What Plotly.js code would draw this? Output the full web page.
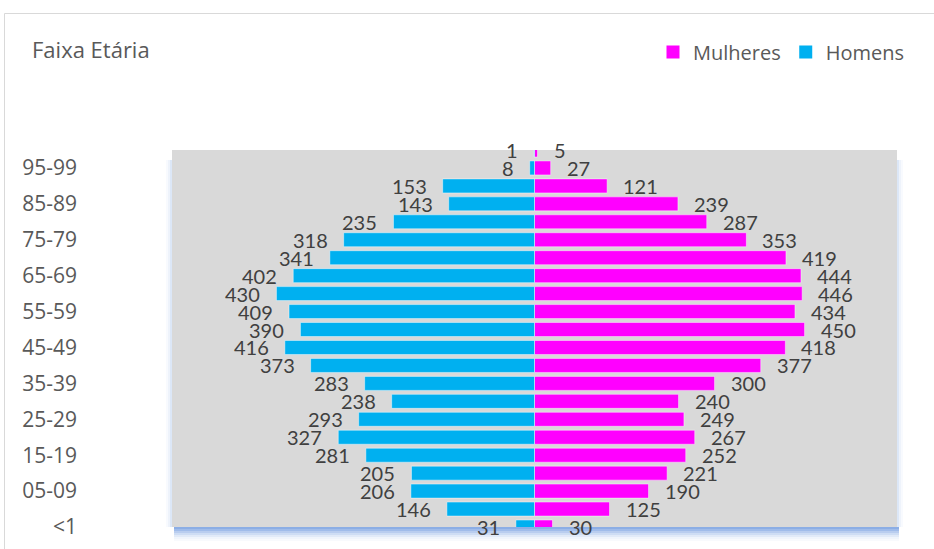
<!DOCTYPE html>
<html>
<head>
<meta charset="utf-8">
<script src="https://cdn.plot.ly/plotly-3.0.1.min.js"></script>
<style>
  html, body { margin: 0; padding: 0; background: #ffffff; }
  #chart { width: 934px; height: 549px; }
</style>
</head>
<body>
<div id="chart"></div>
<script>
// Age groups, bottom to top
const categories = ['<1','01-04','05-09','10-14','15-19','20-24','25-29','30-34','35-39','40-44','45-49',
                    '50-54','55-59','60-64','65-69','70-74','75-79','80-84','85-89','90-94','95-99','100+'];
const homens   = [31,146,206,205,281,327,293,238,283,373,416,390,409,430,402,341,318,235,143,153,8,1];
const mulheres = [30,125,190,221,252,267,249,240,300,377,418,450,434,446,444,419,353,287,239,121,27,5];
const tickLabels = ['<1','05-09','15-19','25-29','35-39','45-49','55-59','65-69','75-79','85-89','95-99'];
const seriesNames = ['Mulheres', 'Homens'];
const seriesColors = ['#FF00FF', '#00B0F0'];

const W = 934, H = 549;
const M = { l: 172, r: 37, t: 150, b: 22 };
const PW = W - M.l - M.r, PH = H - M.t - M.b;
const px = v => (v - M.l) / PW;          // container px -> paper x
const py = v => (H - M.b - v) / PH;      // container px -> paper y

const labelFont = { family: 'Lato, "Liberation Sans", sans-serif', size: 20, color: '#404040' };
const uiFamily = '"Open Sans", sans-serif';

const traces = [
  {
    type: 'bar', orientation: 'h', name: seriesNames[0], showlegend: false,
    y: categories, x: mulheres,
    marker: { color: seriesColors[0], line: { color: 'rgba(255,255,255,0.45)', width: 1 } },
    hoverinfo: 'y+text', text: mulheres.map(String), textposition: 'none'
  },
  {
    type: 'bar', orientation: 'h', name: seriesNames[1], showlegend: false,
    y: categories, x: homens.map(v => -v),
    marker: { color: seriesColors[1], line: { color: 'rgba(255,255,255,0.45)', width: 1 } },
    hoverinfo: 'y+text', text: homens.map(String), textposition: 'none'
  }
];
// legend entries (square swatches like the original)
seriesNames.forEach((n, i) => {
  traces.push({
    type: 'scatter', mode: 'markers', name: n, x: [null], y: [null],
    marker: { symbol: 'square', size: 13, color: seriesColors[i], line: { width: 0 } },
    showlegend: true, hoverinfo: 'skip'
  });
});

const annotations = [];
categories.forEach((c, i) => {
  annotations.push({ x: -homens[i], y: c, xref: 'x', yref: 'y', text: String(homens[i]),
    showarrow: false, xanchor: 'right', yanchor: 'middle', xshift: -14, font: labelFont });
  annotations.push({ x: mulheres[i], y: c, xref: 'x', yref: 'y', text: String(mulheres[i]),
    showarrow: false, xanchor: 'left', yanchor: 'middle', xshift: 14, font: labelFont });
});

// soft blue shadow under the plot area + outer chart border
const shapes = [];
const shadowBands = [
  [527, 529, 0.85], [529, 531, 0.7], [531, 533, 0.52], [533, 535, 0.36], [535, 537, 0.22], [537, 539, 0.11], [539, 541, 0.05]
];
shadowBands.forEach(([a, b, o]) => {
  shapes.push({ type: 'rect', xref: 'paper', yref: 'paper', layer: 'below',
    x0: px(174), x1: px(899), y0: py(b), y1: py(a),
    fillcolor: 'rgba(120,160,225,' + o + ')', line: { width: 0 } });
});
[[0, 2, 0.3], [2, 4, 0.15], [4, 6, 0.06]].forEach(([a, b, o]) => {
  shapes.push({ type: 'rect', xref: 'paper', yref: 'paper', layer: 'below',
    x0: px(172 - b), x1: px(172 - a), y0: py(527), y1: py(160),
    fillcolor: 'rgba(140,175,230,' + o + ')', line: { width: 0 } });
  shapes.push({ type: 'rect', xref: 'paper', yref: 'paper', layer: 'below',
    x0: px(897 + a), x1: px(897 + b), y0: py(527), y1: py(160),
    fillcolor: 'rgba(140,175,230,' + o + ')', line: { width: 0 } });
});
shapes.push({ type: 'rect', xref: 'paper', yref: 'paper', layer: 'below',
  x0: px(4.5), x1: px(945), y0: py(560), y1: py(13.5),
  fillcolor: 'rgba(0,0,0,0)', line: { color: '#D9D9D9', width: 1 } });

const layout = {
  width: W, height: H,
  margin: { l: M.l, r: M.r, t: M.t, b: M.b, autoexpand: false },
  paper_bgcolor: '#FFFFFF',
  plot_bgcolor: '#D9D9D9',
  barmode: 'relative',
  bargap: 0.22,
  showlegend: true,
  title: {
    text: 'Faixa Etária',
    font: { family: uiFamily, size: 22, color: '#595959' },
    xref: 'container', yref: 'container',
    x: 32 / W, xanchor: 'left', y: 1 - 50 / H, yanchor: 'middle'
  },
  legend: {
    orientation: 'h', xref: 'container', yref: 'container',
    x: 653 / W, xanchor: 'left', y: 1 - 52 / H, yanchor: 'middle',
    font: { family: uiFamily, size: 20, color: '#595959' },
    bgcolor: 'rgba(0,0,0,0)', itemwidth: 30, traceorder: 'normal'
  },
  xaxis: {
    range: [-604, 604], visible: false, fixedrange: true
  },
  yaxis: {
    type: 'category', categoryorder: 'array', categoryarray: categories,
    range: [0, 21], tickmode: 'array', tickvals: tickLabels, ticktext: tickLabels,
    showgrid: false, zeroline: false, showline: false, ticks: '',
    ticklabelstandoff: 94,
    tickfont: { family: uiFamily, size: 21, color: '#595959' },
    fixedrange: true
  },
  annotations: annotations,
  shapes: shapes
};

Plotly.newPlot('chart', traces, layout, { displayModeBar: false, staticPlot: true });
</script>
</body>
</html>
